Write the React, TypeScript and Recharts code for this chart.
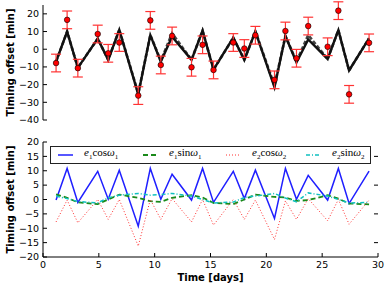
import { ComposedChart, Line, Scatter, ErrorBar, XAxis, YAxis, Legend } from "recharts";

// observation times [days]
const days = [1.17, 2.16, 3.12, 4.9, 5.84, 6.83, 8.53, 9.61, 10.55, 11.56, 13.3, 14.29, 15.27, 17.04, 18.03, 19.02, 20.73, 21.71, 22.7, 23.75, 25.49, 26.45, 27.41, 29.2];

// top panel: measured timing offsets + two model fits [min]
const observed = [-7.8, 16.6, -10.7, 8.6, -2.3, 3.8, -26.2, 16.3, -8.9, 7.5, -10.2, 2.5, -11.7, 3.8, 0.4, 7.9, -17.3, 10.3, -5.1, 13.1, 1.4, 21.8, -25.5, 3.6];
const obsError = [5, 5, 5, 5, 5, 5, 5, 5, 5, 5, 5, 5, 5, 5, 5, 5, 5, 5, 5, 5, 5, 5, 5, 5];
const modelFit = [-7, 10, -10.5, 6, -6, 11, -25.5, 8, -7, 7, -6, 10.5, -11.5, 6.5, -6, 10, -21.5, 7.5, -7.5, 5.5, -5.5, 10.8, -12, 6.2];
const modelAlt = [-7, 10, -10.5, 6, -6, 11, -25, 8, -6.5, 9, -6, 10.5, -11.5, 6.5, -6, 10, -20.5, 7.5, -7, 8, -5.5, 10.8, -12, 6.2];

// bottom panel: individual terms [min]
const e1cos = [-0.2, 10.8, -1.0, 9.8, 0.1, 10.2, -9.3, 10.8, 0.1, 8.8, -0.2, 10.8, -1.0, 9.8, 0.3, 10.2, -6.6, 10.8, 0.1, 8.4, -0.2, 10.8, -1.4, 9.9];
const e1sin = [1.8, 0.6, -1.0, -1.6, 0.0, 1.7, 0.6, -0.6, -0.8, 0.6, 1.5, 0.7, -1.2, -1.6, 0.0, 1.7, 0.9, 0.7, -0.5, -0.2, 1.5, 0.3, -1.4, -1.7];
const e2cos = [-7.8, -0.2, -8.1, 0.0, -6.9, 0.0, -16.2, 0.0, -6.9, 0.3, -7.8, 0.0, -8.9, 0.0, -6.9, -0.2, -13.9, -0.5, -6.9, 0.3, -7.4, 0.0, -8.6, -0.2];
const e2sin = [1.2, 0.3, -0.7, -1.2, 0.6, 1.5, 2.1, 1.5, 1.7, 2.1, 1.2, 0.0, -1.2, -0.9, 0.7, 1.2, 2.1, 0.5, -0.8, 2.3, 1.2, 0.0, -1.2, -1.0];

const xTicks = [0, 5, 10, 15, 20, 25, 30];
const topYTicks = [-40, -30, -20, -10, 0, 10, 20];
const bottomYTicks = [-20, -15, -10, -5, 0, 5, 10, 15, 20];
// the axis only gives us every 10 min here, so the in-between ticks are placed through the scales as tiny scatter marks
const bottomYMajor = bottomYTicks.filter((_, i) => i % 2 === 0);
const bottomYMinor = bottomYTicks.filter((_, i) => i % 2 === 1);

const topData = days.map((t, i) => ({ t, obs: observed[i], err: obsError[i], fit: modelFit[i], alt: modelAlt[i] }));
const bottomData = days.map((t, i) => ({ t, e1c: e1cos[i], e1s: e1sin[i], e2c: e2cos[i], e2s: e2sin[i] }));
const minorLeft = bottomYMinor.map((v) => ({ t: xTicks[0], v }));
const minorRight = bottomYMinor.map((v) => ({ t: xTicks[xTicks.length - 1], v }));

const fmt = (v: number) => (v < 0 ? `\u2212${Math.abs(v)}` : `${v}`);
const blank = () => "";
const tickFont = { fontFamily: "DejaVu Sans", fontSize: 9.5, fill: "#000" };
const frame = { stroke: "#000", strokeWidth: 1 };
const axisTitle = { fontFamily: "DejaVu Sans", fontWeight: "bold", fontSize: 10, fill: "#000", textAnchor: "middle" };

const LeftMinor = (p: any) => (
  <g>
    <line x1={p.cx} x2={p.cx + 4} y1={p.cy} y2={p.cy} stroke="#000" />
    <text x={p.cx - 4} y={p.cy} dy="0.355em" textAnchor="end" {...tickFont}>
      {fmt(p.payload.v)}
    </text>
  </g>
);
const RightMinor = (p: any) => <line x1={p.cx - 4} x2={p.cx} y1={p.cy} y2={p.cy} stroke="#000" />;

const term = (n: number, fn: string) => (
  <span>
    <i>e</i>
    <sub style={{ fontSize: 7 }}>{n}</sub>
    {fn}
    <i>ω</i>
    <sub style={{ fontSize: 7 }}>{n}</sub>
  </span>
);

const series = [
  { key: "e1c", color: "#1f1fff", dash: undefined, width: 1.5, label: term(1, "cos"), left: 7 },
  { key: "e1s", color: "#1a8a1a", dash: "5 3", width: 1.8, label: term(1, "sin"), left: 92 },
  { key: "e2c", color: "#ff3030", dash: "1 2", width: 1, label: term(2, "cos"), left: 175 },
  { key: "e2s", color: "#10c0c0", dash: "4 2 1 2", width: 1.5, label: term(2, "sin"), left: 255 },
];

function LegendBox() {
  return (
    <div style={{ position: "relative", width: 319, height: 16, border: "1px solid #222", background: "#fff", fontFamily: "Liberation Serif", fontSize: 11 }}>
      {series.map((s) => (
        <div key={s.key} style={{ position: "absolute", left: s.left, top: 0, height: 16, display: "flex", alignItems: "center" }}>
          <svg width={15} height={4} style={{ marginRight: 11 }}>
            <line x1={0} y1={2} x2={15} y2={2} stroke={s.color} strokeWidth={s.width} strokeDasharray={s.dash} />
          </svg>
          <span style={{ lineHeight: "12px" }}>{s.label}</span>
        </div>
      ))}
    </div>
  );
}

export default function App() {
  return (
    <div style={{ position: "absolute", left: 0, top: 0, width: 390, height: 289, background: "#fff" }}>
      <ComposedChart width={390} height={125} data={topData} margin={{ top: 5, right: 12, bottom: 5, left: 0 }}>
        <XAxis dataKey="t" type="number" domain={[0, 30]} allowDataOverflow ticks={xTicks} interval={0} tickFormatter={blank} tickSize={-4} height={0} axisLine={frame} tickLine={frame} />
        <XAxis xAxisId="top" dataKey="t" orientation="top" type="number" domain={[0, 30]} allowDataOverflow ticks={xTicks} interval={0} tickFormatter={blank} tickSize={-4} height={0} axisLine={frame} tickLine={frame} />
        <YAxis
          type="number"
          domain={[-40, 25]}
          allowDataOverflow
          ticks={topYTicks}
          interval={0}
          tickFormatter={fmt}
          tickSize={-4}
          tickMargin={8}
          width={43}
          tick={tickFont}
          axisLine={frame}
          tickLine={frame}
          label={{ value: "Timing offset [min]", angle: -90, position: "insideLeft", offset: 10, style: axisTitle }}
        />
        <YAxis yAxisId="right" orientation="right" type="number" domain={[-40, 25]} allowDataOverflow ticks={topYTicks} interval={0} tickFormatter={blank} tickSize={-4} width={0} axisLine={frame} tickLine={frame} />
        <Line dataKey="alt" stroke="#444" strokeWidth={2.6} strokeDasharray="4 2" dot={false} isAnimationActive={false} />
        <Line dataKey="fit" stroke="#111" strokeWidth={2.4} dot={false} isAnimationActive={false} />
        <Scatter
          dataKey="obs"
          isAnimationActive={false}
          shape={(p: any) => <circle cx={p.cx} cy={p.cy} r={2.8} fill="#f00" stroke="#000" strokeWidth={0.6} />}
        >
          <ErrorBar dataKey="err" direction="y" width={5} stroke="#ff3333" strokeWidth={1.2} />
        </Scatter>
      </ComposedChart>

      <ComposedChart width={390} height={164} data={bottomData} margin={{ top: 17, right: 12, bottom: 0, left: 0 }}>
        <XAxis
          dataKey="t"
          type="number"
          domain={[0, 30]}
          ticks={xTicks}
          interval={0}
          tickSize={-4}
          tickMargin={8}
          height={32}
          tick={tickFont}
          axisLine={frame}
          tickLine={frame}
          label={{ value: "Time [days]", position: "insideBottom", offset: 8, style: axisTitle }}
        />
        <XAxis xAxisId="top" dataKey="t" orientation="top" type="number" domain={[0, 30]} ticks={xTicks} interval={0} tickFormatter={blank} tickSize={-4} height={0} axisLine={frame} tickLine={frame} />
        <YAxis
          type="number"
          domain={[-20, 20]}
          ticks={bottomYMajor}
          interval={0}
          tickFormatter={fmt}
          tickSize={-4}
          tickMargin={8}
          width={43}
          tick={tickFont}
          axisLine={frame}
          tickLine={frame}
          label={{ value: "Timing offset [min]", angle: -90, position: "insideLeft", offset: 10, style: axisTitle }}
        />
        <YAxis yAxisId="right" orientation="right" type="number" domain={[-20, 20]} ticks={bottomYMajor} interval={0} tickFormatter={blank} tickSize={-4} width={0} axisLine={frame} tickLine={frame} />
        {series.map((s) => (
          <Line
            key={s.key}
            dataKey={s.key}
            stroke={s.color}
            strokeWidth={s.width}
            strokeDasharray={s.dash}
            dot={false}
            isAnimationActive={false}
          />
        ))}
        <Scatter data={minorLeft} dataKey="v" shape={LeftMinor} isAnimationActive={false} />
        <Scatter data={minorRight} dataKey="v" shape={RightMinor} isAnimationActive={false} />
        <Legend
          layout="horizontal"
          verticalAlign="middle"
          align="center"
          content={() => <LegendBox />}
          wrapperStyle={{ left: 50, top: 21, width: 321, height: 18 }}
        />
      </ComposedChart>
    </div>
  );
}
